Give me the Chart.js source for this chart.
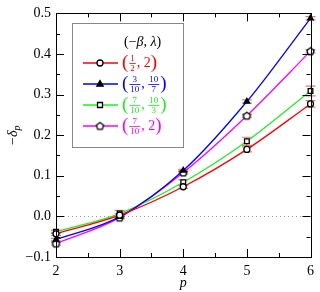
<!DOCTYPE html>
<html>
<head>
<meta charset="utf-8">
<script src="https://cdn.jsdelivr.net/npm/chart.js@4"></script>
<style>
  html, body { margin: 0; padding: 0; background: #fff; }
  #wrap { width: 320px; height: 292px; }
</style>
</head>
<body>
<div id="wrap"><canvas id="c" width="320" height="292"></canvas></div>
<script>
/* ------------------- DATA ------------------- */
const P_VALUES = [2, 3, 4, 5, 6];
const RED_VALUES = [-0.043, 0.003, 0.073, 0.165, 0.277];
const BLUE_VALUES = [-0.057, -0.001, 0.113, 0.283, 0.488];
const GREEN_VALUES = [-0.038, 0.007, 0.084, 0.185, 0.309];
const MAGENTA_VALUES = [-0.067, -0.003, 0.108, 0.248, 0.407];
const RED_ERR = [0.004, 0.003, 0.004, 0.006, 0.008];
const BLUE_ERR = [0.003, 0.003, 0.003, 0.004, 0.004];
const GREEN_ERR = [0.004, 0.008, 0.006, 0.010, 0.012];
const MAGENTA_ERR = [0.004, 0.003, 0.004, 0.004, 0.004];
const Y_TICKS = [-0.1, 0.0, 0.1, 0.2, 0.3, 0.4, 0.5];
const X_TICKS = [2, 3, 4, 5, 6];

const SERIF = "'Liberation Serif', 'DejaVu Serif', serif";

/* ------------------- Pentagon marker ------------------- */
function makePentagon() {
  const c = document.createElement("canvas");
  c.width = 11; c.height = 11;
  const g = c.getContext("2d");
  g.beginPath();
  for (let i = 0; i < 5; i++) {
    const a = -Math.PI / 2 + i * 2 * Math.PI / 5;
    const x = 5.5 + 3.8 * Math.cos(a), y = 5.8 + 3.8 * Math.sin(a);
    i ? g.lineTo(x, y) : g.moveTo(x, y);
  }
  g.closePath();
  g.fillStyle = "#fff";
  g.fill();
  g.lineWidth = 1.3;
  g.strokeStyle = "#000";
  g.stroke();
  return c;
}
const pentagon = makePentagon();

function toPoints(vals) {
  return P_VALUES.map((p, i) => ({ x: p, y: vals[i] }));
}

const SERIES = [
  { color: "#ff0000", vals: RED_VALUES, err: RED_ERR, style: "circle", fill: "#fff", r: 3 },
  { color: "#0000ff", vals: BLUE_VALUES, err: BLUE_ERR, style: "triangle", fill: "#000", r: 3.2 },
  { color: "#22ee22", vals: GREEN_VALUES, err: GREEN_ERR, style: "rect", fill: "#fff", r: 3.3 },
  { color: "#ff00ff", vals: MAGENTA_VALUES, err: MAGENTA_ERR, style: pentagon, fill: "#fff", r: 4 }
];

/* ------------------- Plugins ------------------- */
const errorBars = {
  id: "errorBars",
  beforeDatasetsDraw(chart) {
    const { ctx, scales: { x, y } } = chart;
    ctx.save();
    ctx.strokeStyle = "rgba(190,90,90,0.75)";
    ctx.lineWidth = 1.2;
    SERIES.forEach(s => {
      P_VALUES.forEach((p, i) => {
        const px = x.getPixelForValue(p);
        const y1 = y.getPixelForValue(s.vals[i] - s.err[i]);
        const y2 = y.getPixelForValue(s.vals[i] + s.err[i]);
        ctx.beginPath();
        ctx.moveTo(px, y1); ctx.lineTo(px, y2);
        ctx.moveTo(px - 5, y1); ctx.lineTo(px + 5, y1);
        ctx.moveTo(px - 5, y2); ctx.lineTo(px + 5, y2);
        ctx.stroke();
      });
    });
    ctx.restore();
  }
};

const frame = {
  id: "frame",
  beforeDatasetsDraw(chart) {
    const { ctx, chartArea: a, scales: { x, y } } = chart;
    ctx.save();
    // dotted zero line
    ctx.strokeStyle = "#999";
    ctx.lineWidth = 1;
    ctx.setLineDash([1, 3]);
    ctx.beginPath();
    const zy = Math.round(y.getPixelForValue(0)) + 0.5;
    ctx.moveTo(a.left, zy); ctx.lineTo(a.right, zy);
    ctx.stroke();
    ctx.restore();
  },
  afterDraw(chart) {
    const { ctx, chartArea: a, scales: { x, y } } = chart;
    ctx.save();
    ctx.strokeStyle = "#000";
    ctx.lineWidth = 1;
    ctx.strokeRect(Math.round(a.left) + 0.5, Math.round(a.top) + 0.5,
      Math.round(a.right - a.left), Math.round(a.bottom - a.top));
    ctx.beginPath();
    // x ticks (major + minor), bottom and top
    for (let v = 2; v <= 6.001; v += 0.5) {
      const px = Math.round(x.getPixelForValue(v)) + 0.5;
      const len = Math.abs(v - Math.round(v)) < 1e-6 ? 8 : 4;
      ctx.moveTo(px, a.bottom); ctx.lineTo(px, a.bottom - len);
      ctx.moveTo(px, a.top); ctx.lineTo(px, a.top + len);
    }
    // y ticks, left and right
    for (let k = -2; k <= 10; k++) {
      const v = k * 0.05;
      const py = Math.round(y.getPixelForValue(v)) + 0.5;
      const len = k % 2 === 0 ? 8 : 4;
      ctx.moveTo(a.left, py); ctx.lineTo(a.left + len, py);
      ctx.moveTo(a.right, py); ctx.lineTo(a.right - len, py);
    }
    ctx.stroke();

    // y title: −δ_p
    ctx.save();
    ctx.translate(13, (a.top + a.bottom) / 2);
    ctx.rotate(-Math.PI / 2);
    ctx.fillStyle = "#000";
    ctx.textBaseline = "middle";
    ctx.font = "14px " + SERIF;
    const minus = "\u2212";
    const mw = ctx.measureText(minus).width;
    ctx.font = "italic 14px " + SERIF;
    const dw = ctx.measureText("\u03b4").width;
    ctx.font = "italic 10px " + SERIF;
    const pw = ctx.measureText("p").width;
    let sx = -(mw + dw + pw) / 2;
    ctx.font = "14px " + SERIF;
    ctx.fillText(minus, sx, 0); sx += mw;
    ctx.font = "italic 14px " + SERIF;
    ctx.fillText("\u03b4", sx, 0); sx += dw;
    ctx.font = "italic 10px " + SERIF;
    ctx.fillText("p", sx, 4);
    ctx.restore();

    drawLegend(ctx);
    ctx.restore();
  }
};

/* ------------------- Legend ------------------- */
function drawFraction(ctx, x, y, num, den, color) {
  ctx.font = "9px " + SERIF;
  const w = Math.max(ctx.measureText(num).width, ctx.measureText(den).width);
  ctx.fillStyle = color;
  ctx.textAlign = "center";
  ctx.textBaseline = "alphabetic";
  ctx.fillText(num, x + w / 2 + 1, y - 2);
  ctx.textBaseline = "top";
  ctx.fillText(den, x + w / 2 + 1, y + 1);
  ctx.strokeStyle = color;
  ctx.lineWidth = 0.8;
  ctx.beginPath();
  ctx.moveTo(x, y + 0.5); ctx.lineTo(x + w + 2, y + 0.5);
  ctx.stroke();
  return w + 2;
}

function drawLabel(ctx, x, y, parts, color) {
  // parts: array of strings or [num, den]
  ctx.fillStyle = color;
  let cx = x;
  const txt = (t, size) => {
    ctx.font = size || "14px " + SERIF;
    ctx.textAlign = "left";
    ctx.textBaseline = "middle";
    ctx.fillText(t, cx, y);
    cx += ctx.measureText(t).width;
  };
  txt("(", "19px " + SERIF);
  cx += 1;
  parts.forEach((p, i) => {
    if (i > 0) { txt(", "); }
    if (Array.isArray(p)) cx += drawFraction(ctx, cx, y, p[0], p[1], color) + 1;
    else txt(p);
  });
  txt(")", "19px " + SERIF);
}

function drawLegend(ctx) {
  ctx.save();
  ctx.strokeStyle = "#888";
  ctx.lineWidth = 1;
  ctx.strokeRect(72.5, 23.5, 111, 124);
  // title
  ctx.fillStyle = "#000";
  ctx.textBaseline = "middle";
  let cx = 124;
  const put = (t, f) => { ctx.font = f; ctx.fillText(t, cx, 42); cx += ctx.measureText(t).width; };
  put("(\u2212", "14px " + SERIF);
  put("\u03b2", "italic 14px " + SERIF);
  put(", ", "14px " + SERIF);
  put("\u03bb", "italic 14px " + SERIF);
  put(")", "14px " + SERIF);

  const labels = [
    [["1", "2"], "2"],
    [["3", "10"], ["10", "7"]],
    [["7", "10"], ["10", "3"]],
    [["7", "10"], "2"]
  ];
  const rows = [63, 84, 105, 126];
  SERIES.forEach((s, i) => {
    const yy = rows[i];
    ctx.strokeStyle = s.color;
    ctx.lineWidth = 1.3;
    ctx.beginPath();
    ctx.moveTo(83, yy); ctx.lineTo(118, yy);
    ctx.stroke();
    drawMarker(ctx, s, 100, yy);
    drawLabel(ctx, 122, yy, labels[i], s.color);
  });
  ctx.restore();
}

function drawMarker(ctx, s, x, y) {
  ctx.save();
  ctx.strokeStyle = "#000";
  ctx.fillStyle = s.fill;
  ctx.lineWidth = 1.3;
  ctx.beginPath();
  if (s.style === "circle") {
    ctx.arc(x, y, s.r, 0, Math.PI * 2);
  } else if (s.style === "rect") {
    ctx.rect(x - 2.5, y - 2.5, 5, 5);
  } else if (s.style === "triangle") {
    ctx.moveTo(x, y - 3.5); ctx.lineTo(x + 3.2, y + 2.2); ctx.lineTo(x - 3.2, y + 2.2); ctx.closePath();
  } else {
    ctx.restore();
    ctx.drawImage(pentagon, x - 5.5, y - 5.5);
    return;
  }
  ctx.fill();
  ctx.stroke();
  ctx.restore();
}

/* ------------------- Chart ------------------- */
new Chart(document.getElementById("c"), {
  type: "line",
  data: {
    datasets: SERIES.map(s => ({
      data: toPoints(s.vals),
      borderColor: s.color,
      borderWidth: 1.3,
      cubicInterpolationMode: "monotone",
      clip: false,
      pointStyle: s.style,
      pointRadius: s.r,
      pointBorderColor: "#000",
      pointBorderWidth: 1.3,
      pointBackgroundColor: s.fill,
      fill: false
    }))
  },
  options: {
    responsive: false,
    animation: false,
    devicePixelRatio: 1,
    layout: { padding: { top: 7, right: 7, left: 0, bottom: 0 } },
    plugins: { legend: { display: false }, tooltip: { enabled: false } },
    scales: {
      x: {
        type: "linear", min: 2, max: 6,
        afterFit(scale) { scale.height = 35; },
        afterBuildTicks(scale) { scale.ticks = X_TICKS.map(v => ({ value: v })); },
        grid: { display: false, drawTicks: false },
        border: { display: false },
        ticks: { padding: 6, color: "#000", font: { family: SERIF, size: 14 }, maxRotation: 0,
          callback: v => String(v) },
        title: { display: true, text: "p", color: "#000", padding: 0,
          font: { family: SERIF, size: 14, style: "italic" } }
      },
      y: {
        type: "linear", min: -0.1, max: 0.5,
        afterFit(scale) { scale.width = 56; },
        afterBuildTicks(scale) { scale.ticks = Y_TICKS.map(v => ({ value: v })); },
        grid: { display: false, drawTicks: false },
        border: { display: false },
        ticks: { padding: 5, color: "#000", font: { family: SERIF, size: 14 },
          callback: v => v.toFixed(1).replace("-", "\u2212") }
      }
    }
  },
  plugins: [frame, errorBars]
});
</script>
</body>
</html>
